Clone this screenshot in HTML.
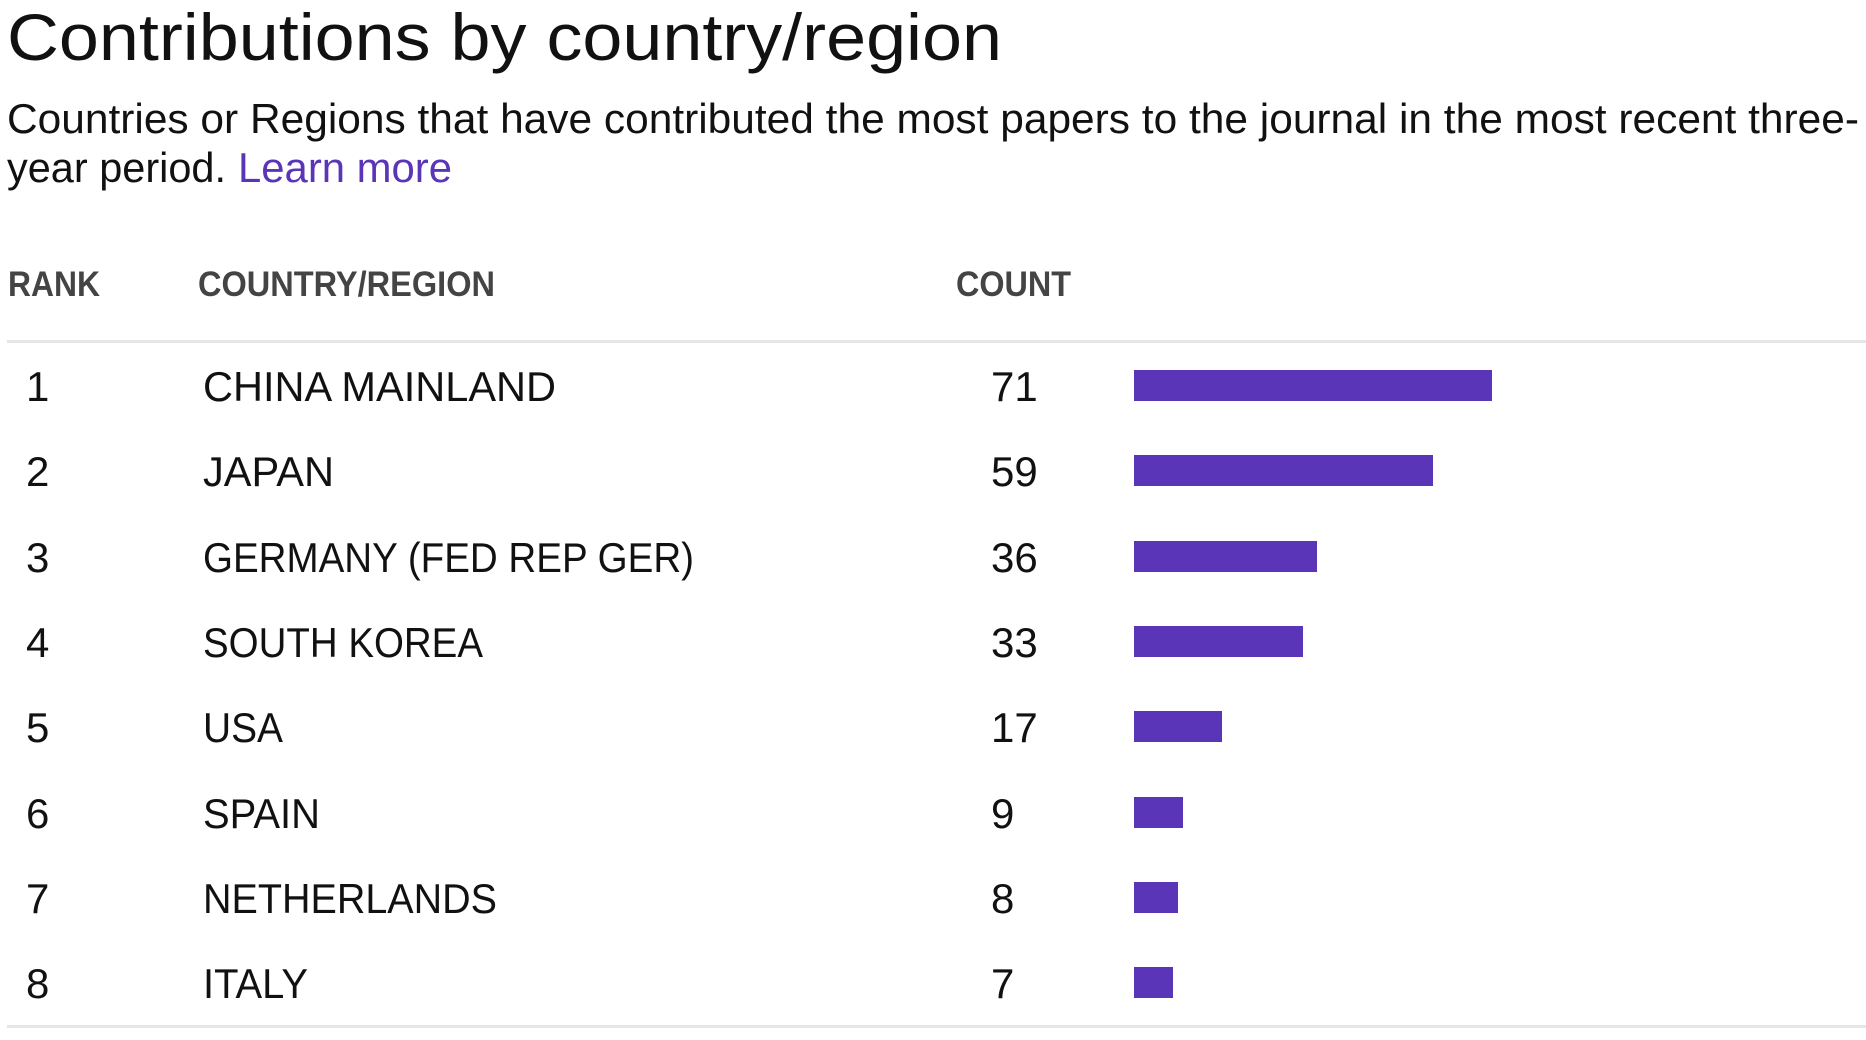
<!DOCTYPE html>
<html><head><meta charset="utf-8"><style>
html,body{margin:0;padding:0;background:#fff;width:1866px;height:1040px;overflow:hidden}
svg{display:block}
text{font-family:"Liberation Sans",sans-serif}
</style></head><body>
<svg width="1866" height="1040" viewBox="0 0 1866 1040" xmlns="http://www.w3.org/2000/svg">
<text x="7" y="60" font-size="66" fill="#111" textLength="995" lengthAdjust="spacingAndGlyphs">Contributions by country/region</text>
<text x="7" y="133" font-size="42" fill="#111" textLength="1852" lengthAdjust="spacingAndGlyphs">Countries or Regions that have contributed the most papers to the journal in the most recent three-</text>
<text x="7" y="182" font-size="42" fill="#111" textLength="219" lengthAdjust="spacingAndGlyphs">year period.</text>
<text x="238" y="182" font-size="42" fill="#5a35b8" textLength="214" lengthAdjust="spacingAndGlyphs">Learn more</text>
<g font-size="35" fill="#444" font-weight="bold">
<text x="8" y="296" textLength="92" lengthAdjust="spacingAndGlyphs">RANK</text>
<text x="198" y="296" textLength="297" lengthAdjust="spacingAndGlyphs">COUNTRY/REGION</text>
<text x="956" y="296" textLength="115" lengthAdjust="spacingAndGlyphs">COUNT</text>
</g>
<rect x="7" y="340" width="1859" height="3" fill="#e6e6e6"/>
<rect x="7" y="1025" width="1859" height="3" fill="#e6e6e6"/>
<g font-size="42" fill="#111">
<text x="26" y="401">1</text><text x="203" y="401" textLength="353" lengthAdjust="spacingAndGlyphs">CHINA MAINLAND</text><text x="991" y="401">71</text>
<text x="26" y="486">2</text><text x="203" y="486" textLength="131" lengthAdjust="spacingAndGlyphs">JAPAN</text><text x="991" y="486">59</text>
<text x="26" y="572">3</text><text x="203" y="572" textLength="491" lengthAdjust="spacingAndGlyphs">GERMANY (FED REP GER)</text><text x="991" y="572">36</text>
<text x="26" y="657">4</text><text x="203" y="657" textLength="280" lengthAdjust="spacingAndGlyphs">SOUTH KOREA</text><text x="991" y="657">33</text>
<text x="26" y="742">5</text><text x="203" y="742" textLength="80" lengthAdjust="spacingAndGlyphs">USA</text><text x="991" y="742">17</text>
<text x="26" y="828">6</text><text x="203" y="828" textLength="117" lengthAdjust="spacingAndGlyphs">SPAIN</text><text x="991" y="828">9</text>
<text x="26" y="913">7</text><text x="203" y="913" textLength="294" lengthAdjust="spacingAndGlyphs">NETHERLANDS</text><text x="991" y="913">8</text>
<text x="26" y="998">8</text><text x="203" y="998" textLength="105" lengthAdjust="spacingAndGlyphs">ITALY</text><text x="991" y="998">7</text>
</g>
<g fill="#5a35b8">
<rect x="1134" y="370" width="358" height="31"/>
<rect x="1134" y="455" width="299" height="31"/>
<rect x="1134" y="541" width="183" height="31"/>
<rect x="1134" y="626" width="169" height="31"/>
<rect x="1134" y="711" width="88" height="31"/>
<rect x="1134" y="797" width="49" height="31"/>
<rect x="1134" y="882" width="44" height="31"/>
<rect x="1134" y="967" width="39" height="31"/>
</g>
</svg>
</body></html>
